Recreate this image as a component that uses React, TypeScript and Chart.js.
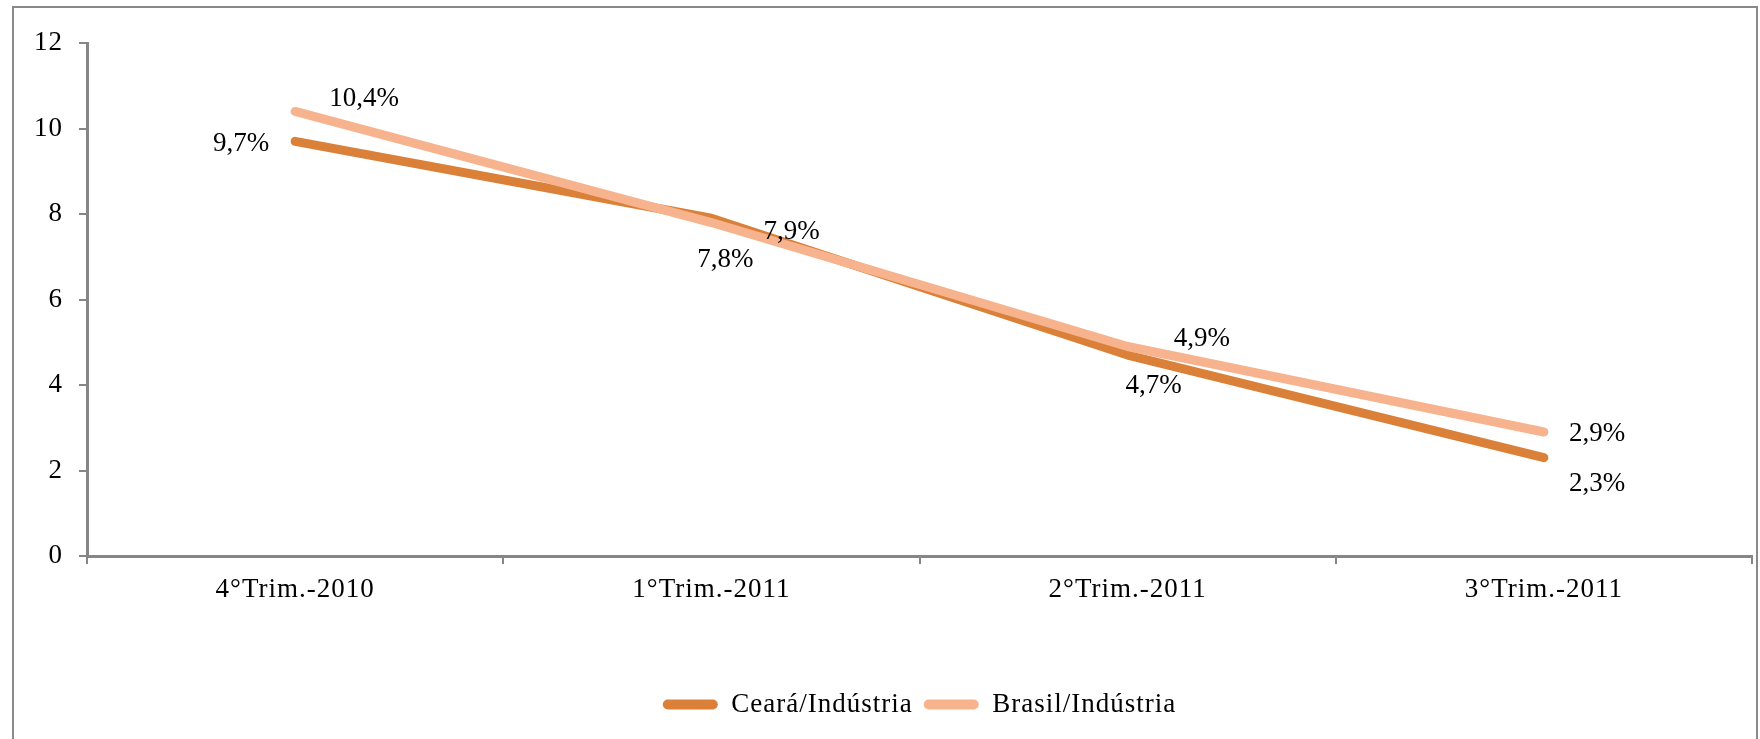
import React, { useEffect, useRef } from "react";
import { Chart, registerables } from "chart.js";

Chart.register(...registerables);

const categories = ["4°Trim.-2010", "1°Trim.-2011", "2°Trim.-2011", "3°Trim.-2011"];
const cearaValues = [9.7, 7.9, 4.7, 2.3];
const brasilValues = [10.4, 7.8, 4.9, 2.9];
const cearaLabels = ["9,7%", "7,9%", "4,7%", "2,3%"];
const brasilLabels = ["10,4%", "7,8%", "4,9%", "2,9%"];
const seriesNames = ["Ceará/Indústria", "Brasil/Indústria"];

const FONT = "'Liberation Serif', 'Times New Roman', serif";
const FS = 27;
const AXIS = "#868686";

// label placement (pixels relative to the point) per dataset
const labelPlacement = [
  [
    { dx: -26, dy: 3, align: "right" },
    { dx: 52, dy: 14, align: "left" },
    { dx: 26, dy: 31, align: "center" },
    { dx: 25, dy: 26, align: "left" },
  ],
  [
    { dx: 34, dy: -12, align: "left" },
    { dx: 14, dy: 37, align: "center" },
    { dx: 46, dy: -8, align: "left" },
    { dx: 25, dy: 2, align: "left" },
  ],
];

const spacingPlugin = {
  id: "spacing",
  beforeLayout(chart: any) {
    chart.ctx.letterSpacing = "1px";
  },
  beforeDraw(chart: any) {
    chart.ctx.letterSpacing = "1px";
  },
};

const framePlugin = {
  id: "frame",
  beforeDraw(chart: any) {
    const ctx = chart.ctx;
    ctx.save();
    ctx.fillStyle = "#ffffff";
    ctx.fillRect(0, 0, chart.width, chart.height);
    ctx.strokeStyle = "#898989";
    ctx.lineWidth = 2;
    ctx.strokeRect(13, 7, 1744, 760);
    ctx.restore();
  },
};

const dataLabelPlugin = {
  id: "dataLabels",
  afterDatasetsDraw(chart: any) {
    const ctx = chart.ctx;
    ctx.save();
    ctx.letterSpacing = "0px";
    ctx.font = `${FS}px ${FONT}`;
    ctx.fillStyle = "#000000";
    ctx.textBaseline = "middle";
    chart.data.datasets.forEach((ds: any, di: number) => {
      const meta = chart.getDatasetMeta(di);
      meta.data.forEach((pt: any, i: number) => {
        const p = labelPlacement[di][i];
        ctx.textAlign = p.align;
        ctx.fillText(ds.labelsText[i], pt.x + p.dx, pt.y + p.dy);
      });
    });
    ctx.restore();
  },
};

export default function App() {
  const ref = useRef<HTMLCanvasElement | null>(null);
  useEffect(() => {
    if (!ref.current) return;
    const chart = new Chart(ref.current, {
      type: "line",
      data: {
        labels: categories,
        datasets: [
          {
            label: seriesNames[0],
            data: cearaValues,
            labelsText: cearaLabels,
            borderColor: "#DB8039",
            backgroundColor: "#DB8039",
            borderWidth: 9,
            borderCapStyle: "round",
            borderJoinStyle: "round",
            pointRadius: 0,
            tension: 0,
            order: 1,
          } as any,
          {
            label: seriesNames[1],
            data: brasilValues,
            labelsText: brasilLabels,
            borderColor: "#F7B38D",
            backgroundColor: "#F7B38D",
            borderWidth: 9,
            borderCapStyle: "round",
            borderJoinStyle: "round",
            pointRadius: 0,
            tension: 0,
            order: 0,
          } as any,
        ],
      },
      options: {
        animation: false,
        responsive: true,
        maintainAspectRatio: false,
        layout: { padding: { left: 0, top: 43, right: 8, bottom: 11 } },
        plugins: {
          tooltip: { enabled: false },
          legend: {
            position: "bottom",
            fullSize: false,
            labels: {
              font: { family: FONT, size: FS },
              color: "#000000",
              boxWidth: 55,
              boxHeight: 10,
              padding: 11,
              useBorderRadius: true,
              borderRadius: 5,
              sort: (a: any, b: any) => a.datasetIndex - b.datasetIndex,
              generateLabels: (c: any) =>
                c.data.datasets.map((ds: any, i: number) => ({
                  text: ds.label,
                  fillStyle: ds.backgroundColor,
                  strokeStyle: ds.backgroundColor,
                  lineWidth: 0,
                  hidden: false,
                  datasetIndex: i,
                  fontColor: "#000000",
                  borderRadius: 5,
                })),
            },
          },
        },
        scales: {
          x: {
            type: "category",
            offset: true,
            grid: {
              offset: true,
              drawOnChartArea: false,
              drawTicks: true,
              tickLength: 8,
              color: AXIS,
              lineWidth: 2,
            },
            border: { display: true, color: AXIS, width: 3 },
            ticks: {
              font: { family: FONT, size: FS },
              color: "#000000",
              padding: 10,
              maxRotation: 0,
            },
            afterFit(scale: any) {
              scale.height = 124;
            },
          },
          y: {
            min: 0,
            max: 12,
            grid: {
              drawOnChartArea: false,
              drawTicks: true,
              tickLength: 8,
              color: AXIS,
              lineWidth: 2,
            },
            border: { display: true, color: AXIS, width: 3 },
            ticks: {
              stepSize: 2,
              font: { family: FONT, size: FS },
              color: "#000000",
              padding: 16,
            },
            afterFit(scale: any) {
              scale.width = 87;
            },
          },
        },
      },
      plugins: [spacingPlugin, framePlugin, dataLabelPlugin],
    } as any);
    return () => chart.destroy();
  }, []);
  return (
    <div style={{ position: "fixed", left: 0, top: 0, width: 1760, height: 739 }}>
      <canvas ref={ref} />
    </div>
  );
}
